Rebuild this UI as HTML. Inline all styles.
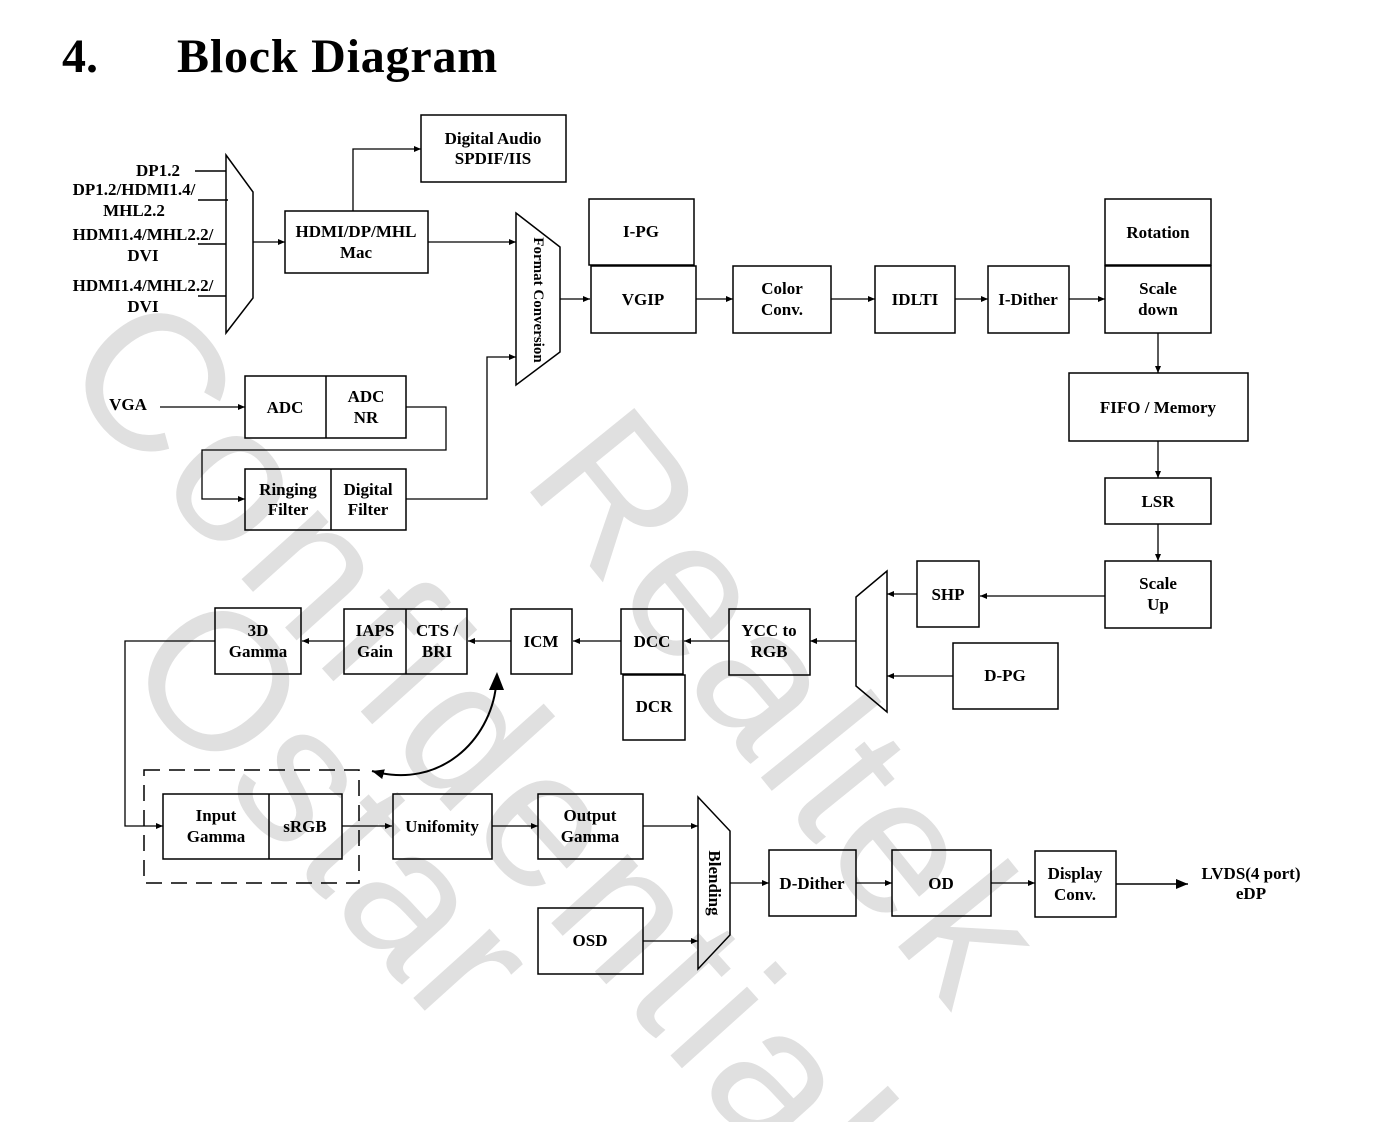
<!DOCTYPE html>
<html><head><meta charset="utf-8"><style>
html,body{margin:0;padding:0;background:#fff;overflow:hidden;width:1377px;height:1122px;}
svg{display:block;}
text{font-family:"Liberation Serif",serif;font-weight:bold;font-size:17px;fill:#000;}
.wm{font-family:"Liberation Sans",sans-serif;font-weight:normal;font-size:195px;fill:#e0e0e0;}
</style></head><body>
<svg width="1377" height="1122" viewBox="0 0 1377 1122" xmlns="http://www.w3.org/2000/svg" overflow="hidden">
<defs>
<clipPath id="clip"><rect x="0" y="0" width="1377" height="1122"/></clipPath>
<marker id="a" markerWidth="8" markerHeight="8" refX="7" refY="4" orient="auto" markerUnits="userSpaceOnUse">
<path d="M0,1 L7,4 L0,7 z" fill="#000"/></marker>
<marker id="b" markerWidth="14" markerHeight="14" refX="12" refY="7" orient="auto" markerUnits="userSpaceOnUse">
<path d="M0,2 L12,7 L0,12 z" fill="#000"/></marker>
</defs>
<g clip-path="url(#clip)">
<text class="wm" transform="translate(55,372) rotate(48)" style="letter-spacing:8px">Confidential</text>
<text class="wm" transform="translate(520,480) rotate(51)" style="letter-spacing:4px">Realtek</text>
<text class="wm" transform="translate(118,670) rotate(48)" style="letter-spacing:4px">Ostar</text>
</g>
<text x="62" y="72" style="font-size:48px">4.</text>
<text x="177" y="72" style="font-size:48px;letter-spacing:0.8px">Block Diagram</text>

<g fill="none" stroke="#000" stroke-width="1.5">
<rect x="421" y="115" width="145" height="67"/>
<rect x="285" y="211" width="143" height="62"/>
<rect x="589" y="199" width="105" height="66"/>
<rect x="591" y="266" width="105" height="67"/>
<rect x="733" y="266" width="98" height="67"/>
<rect x="875" y="266" width="80" height="67"/>
<rect x="988" y="266" width="81" height="67"/>
<rect x="1105" y="199" width="106" height="66"/>
<rect x="1105" y="266" width="106" height="67"/>
<rect x="1069" y="373" width="179" height="68"/>
<rect x="1105" y="478" width="106" height="46"/>
<rect x="1105" y="561" width="106" height="67"/>
<rect x="917" y="561" width="62" height="66"/>
<rect x="953" y="643" width="105" height="66"/>
<rect x="729" y="609" width="81" height="66"/>
<rect x="621" y="609" width="62" height="65"/>
<rect x="623" y="675" width="62" height="65"/>
<rect x="511" y="609" width="61" height="65"/>
<rect x="344" y="609" width="123" height="65"/><line x1="406" y1="609" x2="406" y2="674"/>
<rect x="215" y="608" width="86" height="66"/>
<rect x="245" y="376" width="161" height="62"/><line x1="326" y1="376" x2="326" y2="438"/>
<rect x="245" y="469" width="161" height="61"/><line x1="331" y1="469" x2="331" y2="530"/>
<rect x="163" y="794" width="179" height="65"/><line x1="269" y1="794" x2="269" y2="859"/>
<rect x="393" y="794" width="99" height="65"/>
<rect x="538" y="794" width="105" height="65"/>
<rect x="538" y="908" width="105" height="66"/>
<rect x="769" y="850" width="87" height="66"/>
<rect x="892" y="850" width="99" height="66"/>
<rect x="1035" y="851" width="81" height="66"/>
<rect x="144" y="770" width="215" height="113" stroke-dasharray="16,9"/>
<path d="M226,155 L253,192 L253,298 L226,333 Z"/>
<path d="M516,213 L560,247 L560,352 L516,385 Z"/>
<path d="M887,571 L887,712 L856,686 L856,597 Z"/>
<path d="M698,797 L730,831 L730,935 L698,969 Z"/>
<line x1="195" y1="171" x2="226" y2="171"/>
<line x1="198" y1="200" x2="228" y2="200"/>
<line x1="198" y1="244" x2="226" y2="244"/>
<line x1="198" y1="296" x2="226" y2="296"/>
</g>
<g fill="none" stroke="#000" stroke-width="1.3" marker-end="url(#a)">
<path d="M253,242 H285"/>
<path d="M353,211 V149 H421"/>
<path d="M428,242 H516"/>
<path d="M560,299 H590"/>
<path d="M696,299 H733"/>
<path d="M831,299 H875"/>
<path d="M955,299 H988"/>
<path d="M1069,299 H1105"/>
<path d="M1158,333 V373"/>
<path d="M1158,441 V478"/>
<path d="M1158,524 V561"/>
<path d="M1105,596 H980"/>
<path d="M917,594 H887"/>
<path d="M953,676 H887"/>
<path d="M856,641 H810"/>
<path d="M729,641 H684"/>
<path d="M621,641 H573"/>
<path d="M511,641 H468"/>
<path d="M344,641 H302"/>
<path d="M215,641 H125 V826 H163"/>
<path d="M160,407 H245"/>
<path d="M406,407 H446 V450 H202 V499 H245"/>
<path d="M406,499 H487 V357 H516"/>
<path d="M342,826 H392"/>
<path d="M492,826 H538"/>
<path d="M643,826 H698"/>
<path d="M643,941 H698"/>
<path d="M730,883 H769"/>
<path d="M856,883 H892"/>
<path d="M991,883 H1035"/>
</g>
<path d="M1116,884 H1188" stroke="#000" stroke-width="1.5" marker-end="url(#b)" fill="none"/>
<path d="M496,686 C490,740 440,790 372,771" stroke="#000" stroke-width="2" fill="none" marker-end="url(#b)"/>
<path d="M497,672 L489,690 L504,690 Z" fill="#000"/>

<g text-anchor="middle">
<text x="493" y="144">Digital Audio</text><text x="493" y="164">SPDIF/IIS</text>
<text x="356" y="237">HDMI/DP/MHL</text><text x="356" y="258">Mac</text>
<text x="641" y="237">I-PG</text>
<text x="643" y="305">VGIP</text>
<text x="782" y="294">Color</text><text x="782" y="315">Conv.</text>
<text x="915" y="305">IDLTI</text>
<text x="1028" y="305">I-Dither</text>
<text x="1158" y="238">Rotation</text>
<text x="1158" y="294">Scale</text><text x="1158" y="315">down</text>
<text x="1158" y="413">FIFO / Memory</text>
<text x="1158" y="507">LSR</text>
<text x="1158" y="589">Scale</text><text x="1158" y="610">Up</text>
<text x="948" y="600">SHP</text>
<text x="1005" y="681">D-PG</text>
<text x="769" y="636">YCC to</text><text x="769" y="657">RGB</text>
<text x="652" y="647">DCC</text>
<text x="654" y="712">DCR</text>
<text x="541" y="647">ICM</text>
<text x="375" y="636">IAPS</text><text x="375" y="657">Gain</text>
<text x="437" y="636">CTS /</text><text x="437" y="657">BRI</text>
<text x="258" y="636">3D</text><text x="258" y="657">Gamma</text>
<text x="285" y="413">ADC</text>
<text x="366" y="402">ADC</text><text x="366" y="423">NR</text>
<text x="288" y="495">Ringing</text><text x="288" y="515">Filter</text>
<text x="368" y="495">Digital</text><text x="368" y="515">Filter</text>
<text x="216" y="821">Input</text><text x="216" y="842">Gamma</text>
<text x="305" y="832">sRGB</text>
<text x="442" y="832">Unifomity</text>
<text x="590" y="821">Output</text><text x="590" y="842">Gamma</text>
<text x="590" y="946">OSD</text>
<text x="812" y="889">D-Dither</text>
<text x="941" y="889">OD</text>
<text x="1075" y="879">Display</text><text x="1075" y="900">Conv.</text>
<text x="1251" y="879">LVDS(4 port)</text><text x="1251" y="899">eDP</text>
<text x="158" y="176">DP1.2</text>
<text x="134" y="195">DP1.2/HDMI1.4/</text>
<text x="134" y="216">MHL2.2</text>
<text x="143" y="240">HDMI1.4/MHL2.2/</text>
<text x="143" y="261">DVI</text>
<text x="143" y="291">HDMI1.4/MHL2.2/</text>
<text x="143" y="312">DVI</text>
<text x="128" y="410">VGA</text>
</g>
<text transform="translate(534,300) rotate(90)" text-anchor="middle" style="font-size:15px">Format Conversion</text>
<text transform="translate(709,883) rotate(90)" text-anchor="middle">Blending</text>
</svg>
</body></html>
